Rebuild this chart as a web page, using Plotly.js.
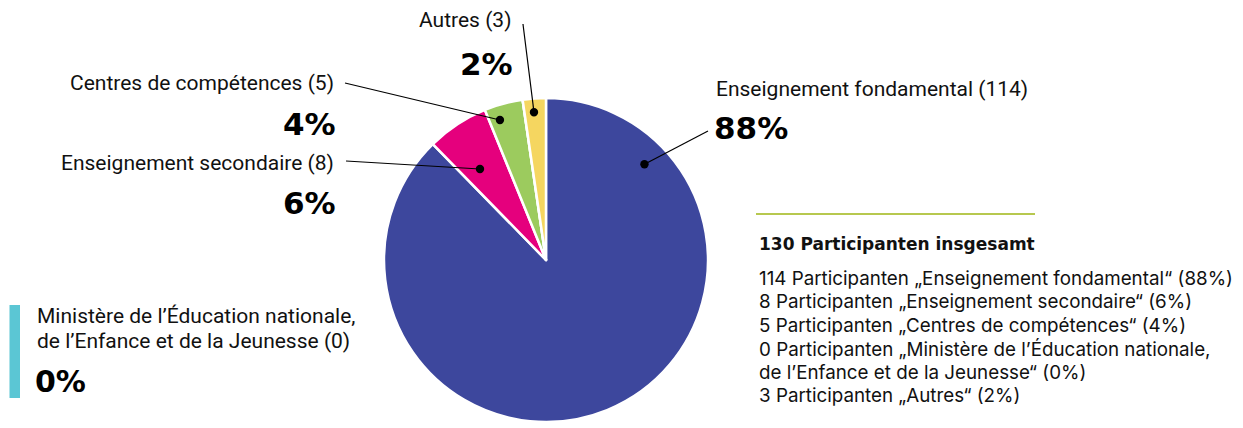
<!DOCTYPE html>
<html><head><meta charset="utf-8">
<script src="https://cdn.plot.ly/plotly-3.0.1.min.js"></script>
<style>html,body{margin:0;padding:0;background:#fff}#chart{width:1243px;height:428px}</style>
</head><body><div id="chart"></div>
<script>
// ---- data ----
const categories = ["Enseignement fondamental", "Enseignement secondaire", "Centres de compétences", "Ministère de l’Éducation nationale,<br>de l’Enfance et de la Jeunesse", "Autres"];
const counts = [114, 8, 5, 0, 3];
const percents = [88, 6, 4, 0, 2];
const totalLabel = "130 Participanten insgesamt";
const unitWord = "Participanten";

// ---- style ----
const W = 1243, H = 428;
const colors = ["#3d479d", "#e5007d", "#9ccb5e", "#5bc6d4", "#f5d660"];
const FONT = "Roboto, 'Liberation Sans', sans-serif";
const FONT_LEG = "Inter, Roboto, sans-serif";
const FONT_BOLD = "'DejaVu Sans', Roboto, sans-serif";
const cx = 546, cy = 260, R = 162;
// position of the leader dot inside each slice (fraction of the slice angle, fraction of radius)
const dotFrac = [0.145, 0.377, 0.285, 0.5, 0.44];
const dotRad = [0.848, 0.694, 0.91, 0.9, 0.915];
// label anchors: [x, y of name, y of percent, xanchor, leader start x, leader start y]
const labelPos = [
  [714, 89, 128, "left", 708, 131],
  [336, 163, 203, "right", 346, 161],
  [336, 83, 124, "right", 345, 83],
  null,
  [513, 20, 64, "right", 523, 24]
];

const total = counts.reduce((a, b) => a + b, 0);
const traces = [{
  type: "pie", values: counts, labels: categories, sort: false, direction: "clockwise", rotation: 0,
  marker: {colors: colors, line: {color: "#ffffff", width: 2.5}},
  textinfo: "none", hoverinfo: "none", showlegend: false,
  domain: {x: [(cx - R) / W, (cx + R) / W], y: [(H - cy - R) / H, (H - cy + R) / H]}
}];

const annotations = [];
const shapes = [
  {type: "line", xref: "x", yref: "y", x0: 756, x1: 1035, y0: 214, y1: 214, line: {color: "#b7c84f", width: 2}},
  {type: "rect", xref: "x", yref: "y", x0: 9.5, x1: 20, y0: 305, y1: 398, fillcolor: colors[3], line: {width: 0}}
];
let cum = 0;
counts.forEach((v, i) => {
  const start = cum / total * 360, span = v / total * 360;
  cum += v;
  const lp = labelPos[i];
  if (!lp) return;
  const th = (start + dotFrac[i] * span) * Math.PI / 180;
  const dx = cx + dotRad[i] * R * Math.sin(th), dy = cy - dotRad[i] * R * Math.cos(th);
  shapes.push({type: "line", layer: "above", xref: "x", yref: "y", x0: lp[4], y0: lp[5], x1: dx, y1: dy, line: {color: "#000", width: 1.2}});
  shapes.push({type: "circle", layer: "above", xref: "x", yref: "y", x0: dx - 4.2, x1: dx + 4.2, y0: dy - 4.2, y1: dy + 4.2, fillcolor: "#000", line: {width: 0}});
  const name = categories[i] + " (" + v + ")";
  annotations.push({x: lp[0], y: lp[1], xref: "x", yref: "y", text: name, showarrow: false, xanchor: lp[3], yanchor: "middle", font: {family: FONT, size: 21, color: "#111"}});
  annotations.push({x: lp[0] + (lp[3] === "left" ? -2 : 2), y: lp[2], xref: "x", yref: "y", text: "<b>" + percents[i] + "%</b>", showarrow: false, xanchor: lp[3], yanchor: "middle", font: {family: FONT_BOLD, size: 31, color: "#000"}});
});

// Ministère block (0 value, shown on the left)
categories[3].split("<br>").forEach((t, k) => {
  const txt = k === 1 ? t + " (" + counts[3] + ")" : t;
  annotations.push({x: 35, y: 316 + k * 25, xref: "x", yref: "y", text: txt, showarrow: false, xanchor: "left", yanchor: "middle", font: {family: FONT, size: 21, color: "#111"}});
});
annotations.push({x: 33, y: 381, xref: "x", yref: "y", text: "<b>" + percents[3] + "%</b>", showarrow: false, xanchor: "left", yanchor: "middle", font: {family: FONT_BOLD, size: 30, color: "#000"}});

// right summary
annotations.push({x: 757, y: 244, xref: "x", yref: "y", text: "<b>" + totalLabel + "</b>", showarrow: false, xanchor: "left", yanchor: "middle", font: {family: FONT_BOLD, size: 17, color: "#111"}});
const lines = [];
counts.forEach((c, i) => {
  const parts = categories[i].split("<br>");
  if (parts.length === 1) lines.push(c + " " + unitWord + " „" + parts[0] + "“ (" + percents[i] + "%)");
  else { lines.push(c + " " + unitWord + " „" + parts[0]); lines.push(parts[1] + "“ (" + percents[i] + "%)"); }
});
lines.forEach((t, k) => {
  annotations.push({x: 757, y: 278 + k * 23.5, xref: "x", yref: "y", text: t, showarrow: false, xanchor: "left", yanchor: "middle", font: {family: FONT_LEG, size: 18.8, color: "#111"}});
});

const layout = {
  width: W, height: H, margin: {l: 0, r: 0, t: 0, b: 0},
  paper_bgcolor: "#fff", plot_bgcolor: "rgba(0,0,0,0)",
  xaxis: {range: [0, W], visible: false, fixedrange: true},
  yaxis: {range: [H, 0], visible: false, fixedrange: true},
  showlegend: false,
  annotations: annotations,
  shapes: shapes
};
Plotly.newPlot("chart", traces, layout, {displayModeBar: false, staticPlot: true});
</script></body></html>
